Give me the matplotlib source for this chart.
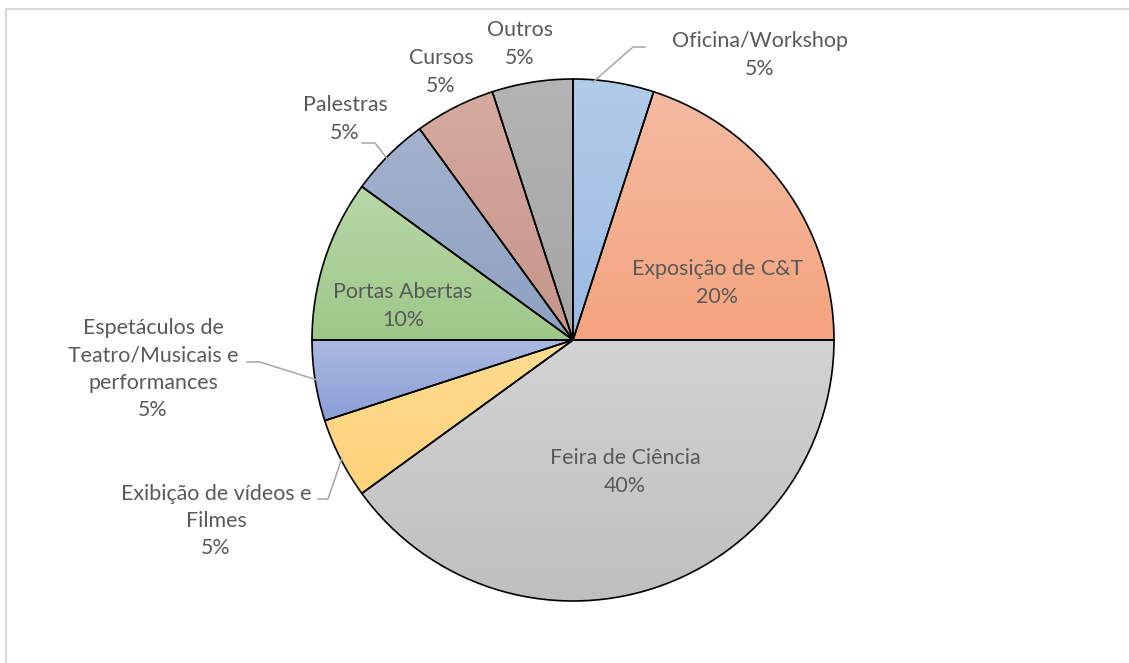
import numpy as np
import matplotlib
matplotlib.use("Agg")
import matplotlib.pyplot as plt
from matplotlib.colors import LinearSegmentedColormap

# data (clockwise from 12 o'clock)
categories = ["Oficina/Workshop", "Exposição de C&T", "Feira de Ciência",
              "Exibição de vídeos e\nFilmes", "Espetáculos de\nTeatro/Musicais e\nperformances",
              "Portas Abertas", "Palestras", "Cursos", "Outros"]
shares = [5, 20, 40, 5, 5, 10, 5, 5, 5]

# gradient colours (top, bottom) for each slice
top_colors = ["#b1cbe9", "#f5bba2", "#d3d3d3", "#ffdc92", "#abb9e2",
              "#b7d8a8", "#a3b2cd", "#d6aa9f", "#b4b4b4"]
bottom_colors = ["#9bbae3", "#f4a47e", "#bfbfbf", "#fed27a", "#8a9ed6",
                 "#9ec888", "#8ea1c1", "#c6958a", "#a5a5a5"]

W, H = 1129, 663
fig = plt.figure(figsize=(W / 100, H / 100), dpi=100)
ax = fig.add_axes([0, 0, 1, 1])

# frame like the Excel chart area
ax.plot([6, 6, W], [0, H - 9, H - 9], color="#d9d9d9", lw=1.5)

cx, cy, R = 573, H - 340, 261
wedges, _ = ax.pie(shares, startangle=90, counterclock=False, radius=R,
                   center=(cx, cy), frame=True,
                   wedgeprops=dict(edgecolor="black", linewidth=1.2, facecolor="none"))

for w, c0, c1 in zip(wedges, top_colors, bottom_colors):
    v = w.get_path().vertices
    x0, x1 = v[:, 0].min(), v[:, 0].max()
    y0, y1 = v[:, 1].min(), v[:, 1].max()
    cmap = LinearSegmentedColormap.from_list("g", [c1, c0])
    grad = np.linspace(0, 1, 256).reshape(-1, 1)
    im = ax.imshow(grad, cmap=cmap, extent=(x0, x1, y0, y1), origin="lower",
                   aspect="auto", zorder=1, interpolation="bilinear")
    im.set_clip_path(w)
    w.set_zorder(2)

ax.set_xlim(0, W)
ax.set_ylim(0, H)
ax.set_aspect("equal")
ax.axis("off")

font = "Lato"
tc = "#595959"
fs = 15.4

def label(x, y, s):
    ax.text(x, H - y, s, ha="center", va="center", fontsize=fs, color=tc,
            family=font, linespacing=1.46, zorder=5)

label(760, 55, categories[0] + "\n" + "%d%%" % shares[0])
label(717, 283, categories[1] + "\n" + "%d%%" % shares[1])
label(625, 472, categories[2] + "\n" + "%d%%" % shares[2])
label(216, 521, categories[3] + "\n" + "%d%%" % shares[3])
label(153, 369, categories[4] + "\n" + "%d%%" % shares[4])
label(403, 306, categories[5] + "\n" + "%d%%" % shares[5])
label(345, 119, categories[6] + "\n" + "%d%%" % shares[6])
label(441, 72, categories[7] + "\n" + "%d%%" % shares[7])
label(520, 44, categories[8] + "\n" + "%d%%" % shares[8])

# leader lines
lc = "#a6a6a6"
leaders = [
    [(593, 82), (633, 47), (645, 47)],
    [(362, 143), (375, 143), (389, 161)],
    [(247, 362), (260, 362), (317, 380)],
    [(318, 499), (328, 499), (342, 458)],
]
for pts in leaders:
    xs = [p[0] for p in pts]
    ys = [H - p[1] for p in pts]
    ax.plot(xs, ys, color=lc, lw=1.1, zorder=4)

fig.savefig("out.png", dpi=100)
